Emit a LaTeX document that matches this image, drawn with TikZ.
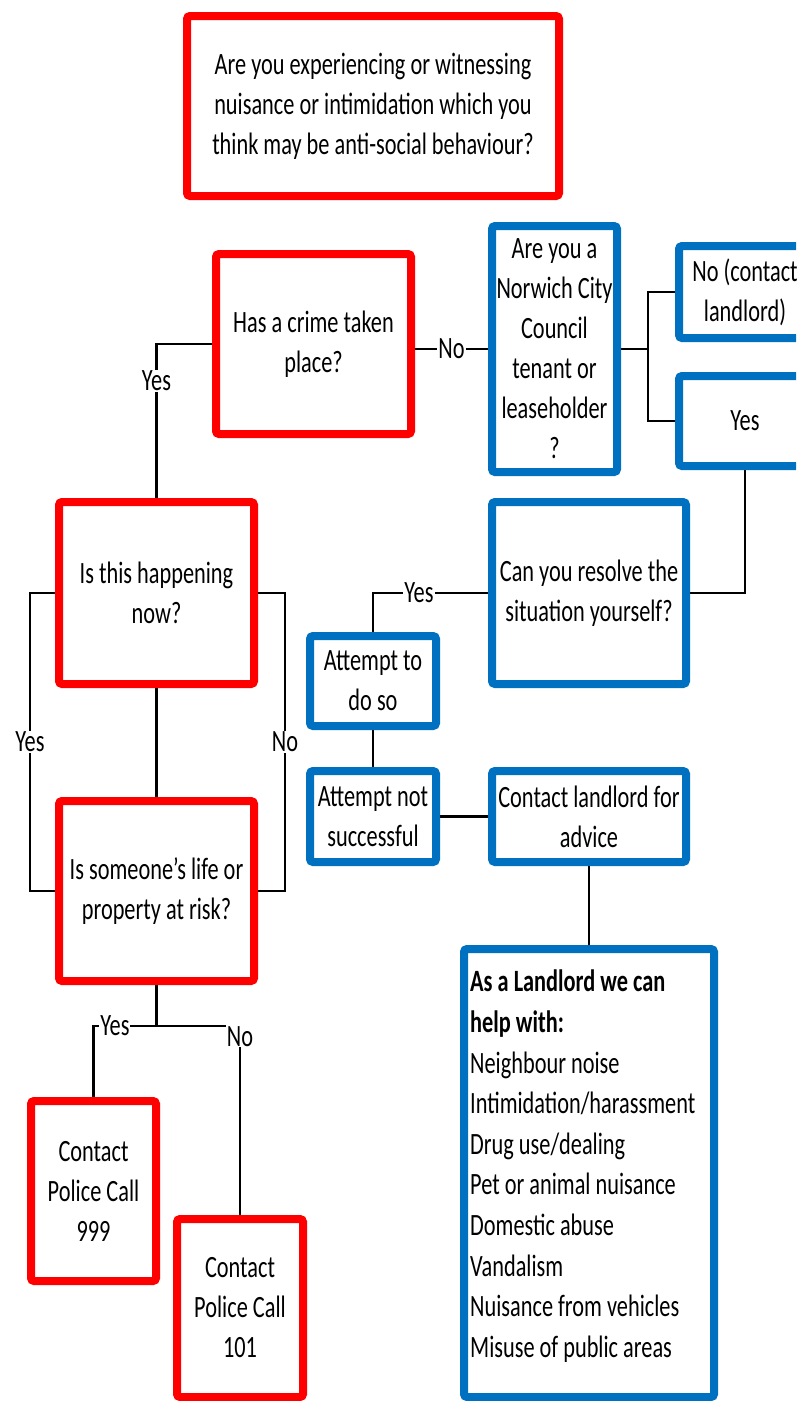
\documentclass[tikz,border=0pt]{standalone}
\usepackage{fontspec}
\setmainfont{Carlito}[FakeStretch=0.72]
\definecolor{asbred}{RGB}{255,0,0}
\definecolor{asbblue}{RGB}{0,112,192}
\tikzset{
  /tikz/.cd,
  box/.style={line width=8pt,rounded corners=3pt,fill=white,align=center,inner sep=0pt,font=\fontsize{31}{40}\selectfont},
  redbox/.style={box,draw=asbred},
  bluebox/.style={box,draw=asbblue}
}

\begin{document}
\begin{tikzpicture}[x=1pt,y=-1pt,
                    link/.style={line width=2.5pt},
                    answer/.style={fill=white,inner sep=1pt,font=\fontsize{31}{40}\selectfont}]
  \useasboundingbox (0,0) rectangle (796,1401);
  \clip (0,0) rectangle (796,1401);

  % red questions
  \node[redbox,minimum width=372,minimum height=180] (start) at (373,106)
    {Are you experiencing or witnessing\\nuisance or intimidation which you\\think may be anti-social behaviour?};
  \node[redbox,minimum width=195,minimum height=180] (crime) at (313.5,344) {Has a crime taken\\place?};
  \node[redbox,minimum width=195,minimum height=182] (happen) at (156.5,593) {Is this happening\\now?};
  \node[redbox,minimum width=195,minimum height=180] (risk) at (156.5,891) {Is someone’s life or\\property at risk?};
  \node[redbox,minimum width=125,minimum height=180] (call999) at (93.5,1191) {Contact\\Police Call\\999};
  \node[redbox,minimum width=126,minimum height=178] (call101) at (240,1308) {Contact\\Police Call\\101};

  % blue (landlord) side
  \node[bluebox,minimum width=125,minimum height=246] (tenant) at (554.5,349)
    {Are you a\\Norwich City\\Council\\tenant or\\leaseholder\\?};
  \node[bluebox,minimum width=132,minimum height=92] (notenant) at (745,292) {No (contact\\landlord)};
  \node[bluebox,minimum width=132,minimum height=90] (istenant) at (745,421) {Yes};
  \node[bluebox,minimum width=194,minimum height=182] (resolve) at (589,593) {Can you resolve the\\situation yourself?};
  \node[bluebox,minimum width=126,minimum height=90] (attempt) at (373,681) {Attempt to\\do so};
  \node[bluebox,minimum width=126,minimum height=91] (failed) at (373,816.5) {Attempt not\\successful};
  \node[bluebox,minimum width=194,minimum height=91] (advice) at (589,816.5) {Contact landlord for\\advice};
  \node[bluebox,minimum width=250,minimum height=448] (helplist) at (589,1173) {};
  \node[anchor=north west,align=left,inner sep=0pt,font=\fontsize{31}{40.6}\selectfont] (helptext)
    at ([xshift=10pt,yshift=-25pt]helplist.north west)
    {\textbf{As a Landlord we can}\\\textbf{help with:}\\Neighbour noise\\Intimidation/harassment\\Drug use/dealing\\
     Pet or animal nuisance\\Domestic abuse\\Vandalism\\Nuisance from vehicles\\Misuse of public areas};

  % connectors
  \draw[link] (crime.west) -| (happen.north) node[answer,pos=0.62] {Yes};
  \draw[link] (tenant.west -| crime.east) -- (tenant.west) node[answer,midway] {No};
  \draw[link] (tenant.east) -- ++(27,0) |- (notenant.west);
  \draw[link] (tenant.east) -- ++(27,0) |- (istenant.west);
  \draw[link] (istenant.south) |- (resolve.east);
  \draw[link] (resolve.west) -| (attempt.north) node[answer,pos=0.3] {Yes};
  \draw[link] (attempt) -- (failed);
  \draw[link] (failed) -- (advice);
  \draw[link] (advice) -- (helplist);

  \draw[link] (happen.west) -- ++(-25,0) |- (risk.west) node[answer,pos=0.25] {Yes};
  \draw[link] (happen.east) -- ++(27,0) |- (risk.east) node[answer,pos=0.25] {No};
  \draw[link] (happen) -- (risk);
  \draw[link] (risk.south) -- ++(0,41) coordinate (fork);
  \draw[link] (fork) -| (call999.north) node[answer,pos=0.33] {Yes};
  \draw[link] (fork) -| (call101.north) node[answer,pos=0.5,anchor=north,yshift=2pt] {No};
\end{tikzpicture}
\end{document}
